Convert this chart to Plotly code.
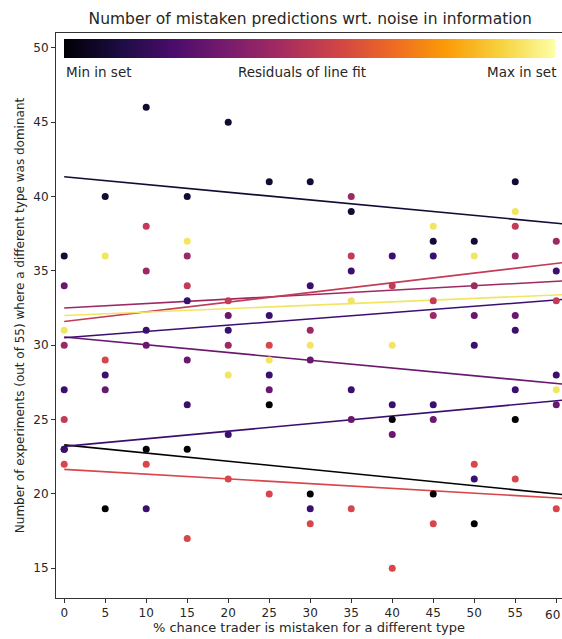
import plotly.graph_objects as go

# ---- data ----
x_ticks = [0, 5, 10, 15, 20, 25, 30, 35, 40, 45, 50, 55, 60]
y_ticks = [15, 20, 25, 30, 35, 40, 45, 50]

color_names = ["black", "navy", "dpurple", "purple", "magenta", "crimson", "red", "yellow"]
colors = {
    "black": "#000004",
    "navy": "#140b34",
    "dpurple": "#3b0f70",
    "purple": "#6a176e",
    "magenta": "#9c2964",
    "crimson": "#c33b56",
    "red": "#d8454a",
    "yellow": "#f2e661",
}

pts_black_x = [0, 5, 10, 15, 25, 30, 40, 45, 50, 55]
pts_black_y = [23, 19, 23, 23, 26, 20, 25, 20, 18, 25]

pts_navy_x = [0, 5, 10, 15, 20, 25, 30, 35, 45, 50, 55]
pts_navy_y = [36, 40, 46, 40, 45, 41, 41, 39, 37, 37, 41]

pts_dpurple_x = [0, 0, 5, 10, 10, 15, 15, 20, 20, 25, 25, 30, 30, 35, 35, 40, 40, 45, 45, 50, 50, 55, 55, 60, 60]
pts_dpurple_y = [27, 23, 28, 31, 19, 33, 26, 31, 24, 32, 28, 34, 19, 35, 27, 36, 26, 36, 26, 30, 21, 31, 27, 35, 28]

pts_purple_x = [0, 5, 10, 15, 20, 25, 30, 35, 40, 45, 50, 55, 60]
pts_purple_y = [34, 27, 30, 29, 32, 27, 29, 25, 24, 25, 32, 32, 26]

pts_magenta_x = [0, 10, 15, 20, 30, 35, 45, 50, 55, 60]
pts_magenta_y = [30, 35, 36, 30, 31, 40, 32, 34, 36, 37]

pts_crimson_x = [0, 10, 15, 20, 35, 40, 45, 55, 60]
pts_crimson_y = [25, 38, 34, 33, 36, 34, 33, 38, 33]

pts_red_x = [0, 5, 10, 15, 20, 25, 25, 30, 35, 40, 45, 50, 55, 60]
pts_red_y = [22, 29, 22, 17, 21, 30, 20, 18, 19, 15, 18, 22, 21, 19]

pts_yellow_x = [0, 5, 15, 20, 25, 30, 35, 40, 45, 50, 55, 60]
pts_yellow_y = [31, 36, 37, 28, 29, 30, 33, 30, 38, 36, 39, 27]

# line fits (intercept at x=0, slope)
fit_names = ["navy", "black", "red", "dpurple", "purple", "dpurple", "magenta", "crimson", "yellow"]
fit_intercept = [41.33, 23.30, 21.65, 23.20, 30.55, 30.50, 32.50, 31.60, 32.00]
fit_slope = [-0.052, -0.055, -0.032, 0.051, -0.052, 0.0424, 0.030, 0.065, 0.023]
fit_x_start = 0
fit_x_end = 61

points = {
    "black": (pts_black_x, pts_black_y),
    "navy": (pts_navy_x, pts_navy_y),
    "dpurple": (pts_dpurple_x, pts_dpurple_y),
    "purple": (pts_purple_x, pts_purple_y),
    "magenta": (pts_magenta_x, pts_magenta_y),
    "crimson": (pts_crimson_x, pts_crimson_y),
    "red": (pts_red_x, pts_red_y),
    "yellow": (pts_yellow_x, pts_yellow_y),
}

FONT = "DejaVu Sans"
TXT = "#262626"

fig = go.Figure()

for name, b, m in zip(fit_names, fit_intercept, fit_slope):
    xs = [fit_x_start, fit_x_end]
    ys = [b + m * x for x in xs]
    fig.add_trace(go.Scatter(x=xs, y=ys, mode="lines",
                             line=dict(color=colors[name], width=1.6),
                             showlegend=False, hoverinfo="skip"))

for name in color_names:
    xs, ys = points[name]
    fig.add_trace(go.Scatter(x=xs, y=ys, mode="markers",
                             marker=dict(color=colors[name], size=7, line=dict(width=0)),
                             showlegend=False))

# colorbar (inset at top)
fig.add_trace(go.Scatter(
    x=[None], y=[None], mode="markers", showlegend=False, hoverinfo="skip",
    marker=dict(color=[0], cmin=0, cmax=1, colorscale="Inferno", showscale=True,
                colorbar=dict(orientation="h", x=0.0164, xanchor="left",
                              y=0.9894, yanchor="top", len=491, lenmode="pixels",
                              thickness=19, thicknessmode="pixels", outlinewidth=0,
                              showticklabels=False, ticks="", xpad=0, ypad=0))))

fig.update_layout(
    width=562, height=639,
    margin=dict(l=56, r=0, t=33, b=41),
    plot_bgcolor="white", paper_bgcolor="white",
    font=dict(family=FONT, size=12, color=TXT),
    title=dict(text="Number of mistaken predictions wrt. noise in information",
               x=0.552, xanchor="center", y=1 - 19 / 639, yanchor="middle",
               font=dict(size=15.5, family=FONT, color=TXT)),
    xaxis=dict(range=[-1, 60.7], tickvals=x_ticks, showgrid=False, zeroline=False,
               showline=True, linecolor="#333333", linewidth=1, mirror=True,
               ticks="outside", ticklen=4, tickcolor="#333333",
               title=dict(text="% chance trader is mistaken for a different type",
                          font=dict(size=13), standoff=2)),
    yaxis=dict(range=[13, 51], tickvals=y_ticks, showgrid=False, zeroline=False,
               showline=True, linecolor="#333333", linewidth=1, mirror=True,
               ticks="outside", ticklen=4, tickcolor="#333333",
               title=dict(text="Number of experiments (out of 55) where a different type was dominant",
                          font=dict(size=12), standoff=6)),
)

# last x tick label sits at the right edge; keep it fully inside the page
fig.add_annotation(text=str(x_ticks[-1]), xref="paper", yref="paper", x=1, y=0,
                   yshift=-8, xanchor="right", yanchor="top", showarrow=False,
                   font=dict(size=12))

label_y = 1 - (72 - 33) / 565
fig.add_annotation(text="Min in set", xref="paper", yref="paper", x=0.0164, y=label_y,
                   xanchor="left", yanchor="middle", showarrow=False, font=dict(size=13.5))
fig.add_annotation(text="Residuals of line fit", xref="paper", yref="paper",
                   x=(302 - 56) / 506, y=label_y,
                   xanchor="center", yanchor="middle", showarrow=False, font=dict(size=13.5))
fig.add_annotation(text="Max in set", xref="paper", yref="paper", x=(558 - 56) / 506, y=label_y,
                   xanchor="right", yanchor="middle", showarrow=False, font=dict(size=13.5))

fig.write_html("out.html", config={"displayModeBar": False},
               post_script="document.body.style.margin='0px';document.body.style.overflow='hidden';")
